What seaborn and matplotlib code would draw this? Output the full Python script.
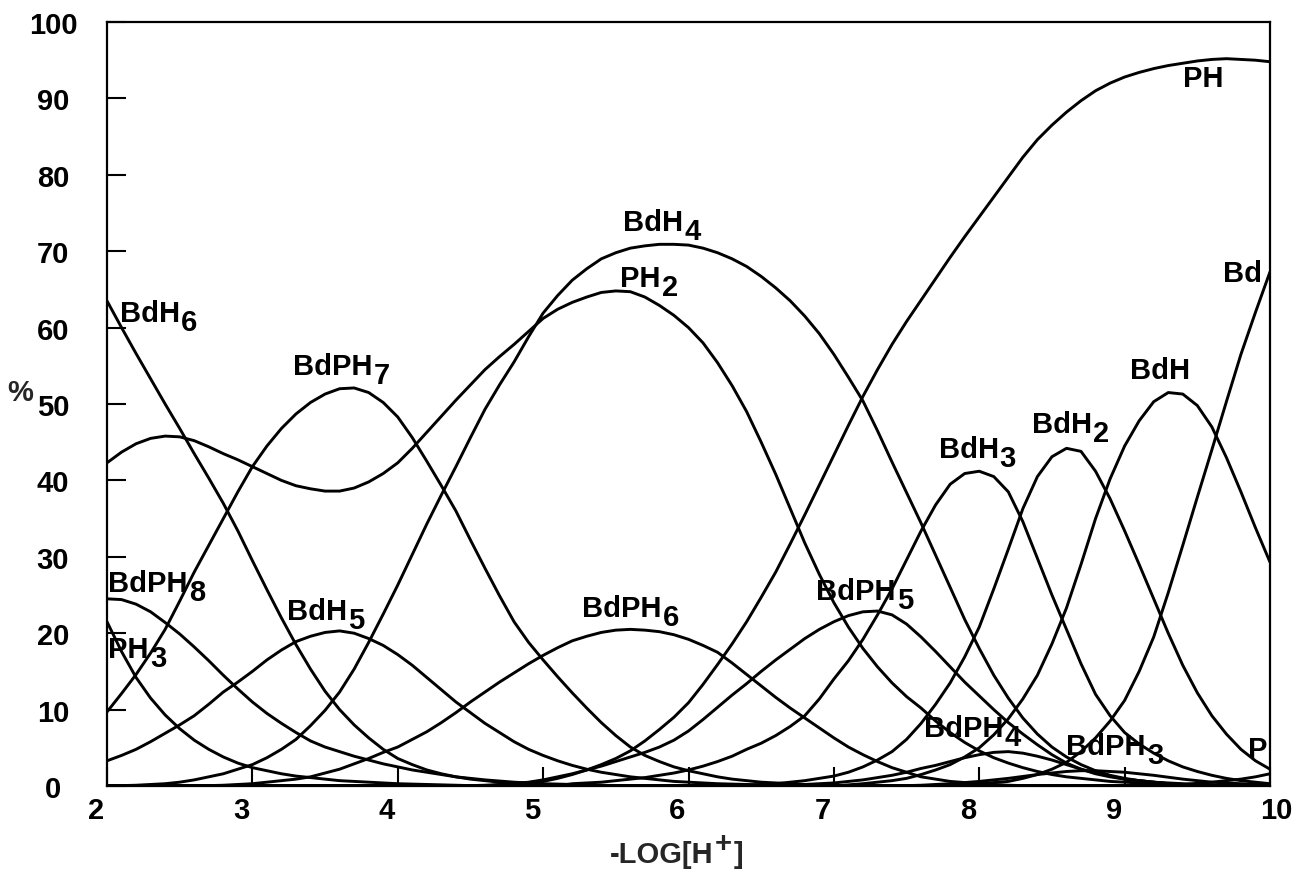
import matplotlib
matplotlib.use("Agg")
import matplotlib.pyplot as plt
import matplotlib.transforms as mtransforms
import numpy as np
import pandas as pd
import seaborn as sns

# -LOG[H+] grid (pH), step 0.1 from 2 to 10
ph = [round(v / 10, 1) for v in range(20, 101)]

# species distribution (%)
BdH6 = [63.5, 60.0, 56.6, 53.3, 50.0, 46.8, 43.5, 40.3, 37.0, 33.4,
        29.5, 25.7, 22.0, 18.5, 15.3, 12.4, 10.0, 8.0, 6.3, 4.8,
        3.6, 2.8, 2.1, 1.6, 1.2, 0.9, 0.7, 0.5, 0.4, 0.3,
        0.2, 0.15, 0.1] + [0.0] * 48
PH2 = [42.3, 43.7, 44.8, 45.5, 45.8, 45.7, 45.2, 44.4, 43.5, 42.7,
       41.8, 40.9, 40.0, 39.3, 38.9, 38.6, 38.6, 39.0, 39.8, 40.9,
       42.3, 44.2, 46.3, 48.4, 50.5, 52.5, 54.5, 56.2, 57.8, 59.5,
       61.2, 62.4, 63.3, 64.0, 64.6, 64.8, 64.7, 64.0, 62.9, 61.6,
       60.0, 58.0, 55.4, 52.4, 49.0, 45.0, 40.8, 36.3, 31.8, 27.7,
       24.0, 20.8, 18.0, 15.6, 13.5, 11.7, 10.2, 8.5, 7.0, 5.7,
       4.6, 3.7, 3.0, 2.4, 1.9, 1.5, 1.2, 1.0, 0.8, 0.6,
       0.5, 0.4, 0.3, 0.25, 0.2, 0.15, 0.1, 0.1, 0.1, 0.05, 0.0]
BdPH7 = [9.7, 12.1, 14.6, 17.4, 20.5, 24.2, 28.0, 31.5, 35.0, 38.5,
         41.8, 44.5, 46.8, 48.7, 50.2, 51.3, 52.0, 52.1, 51.5, 50.2,
         48.3, 45.6, 42.5, 39.3, 36.0, 32.2, 28.5, 24.9, 21.5, 18.8,
         16.5, 14.3, 12.2, 10.2, 8.3, 6.6, 5.1, 4.0, 3.2, 2.5,
         2.0, 1.6, 1.2, 0.9, 0.7, 0.5, 0.4, 0.3, 0.2, 0.15,
         0.1, 0.05] + [0.0] * 29
BdH4 = [0.0, 0.05, 0.1, 0.2, 0.3, 0.5, 0.8, 1.2, 1.6, 2.2,
        2.8, 3.7, 4.8, 6.1, 7.9, 9.9, 12.3, 15.3, 18.8, 22.5,
        26.3, 30.3, 34.3, 38.1, 41.8, 45.6, 49.3, 52.5, 55.5, 58.8,
        61.9, 64.2, 66.2, 67.7, 69.0, 69.8, 70.4, 70.7, 70.9, 70.9,
        70.8, 70.4, 69.8, 69.0, 68.0, 66.7, 65.2, 63.5, 61.5, 59.2,
        56.5, 53.5, 50.4, 46.5, 42.4, 38.4, 34.4, 30.2, 26.0, 21.8,
        18.0, 14.5, 11.5, 8.9, 6.8, 5.1, 3.8, 2.8, 2.0, 1.4,
        1.0, 0.7, 0.5, 0.3, 0.2, 0.15, 0.1, 0.07, 0.05, 0.02, 0.0]
PH = [0.0] * 25 + [0.05, 0.1, 0.2, 0.3, 0.45,
                   0.6, 1.0, 1.5, 2.1, 2.8, 3.6, 4.6, 5.9, 7.4, 9.0,
                   10.9, 13.3, 15.9, 18.6, 21.5, 24.7, 28.0, 31.7, 35.5, 39.4,
                   43.3, 47.2, 51.0, 54.5, 57.8, 60.8, 63.6, 66.4, 69.2, 71.9,
                   74.5, 77.1, 79.7, 82.3, 84.6, 86.5, 88.2, 89.7, 91.0, 92.0,
                   92.8, 93.4, 93.9, 94.3, 94.6, 94.9, 95.1, 95.2, 95.1, 95.0,
                   94.8]
Bd = [0.0] * 58 + [0.1, 0.2, 0.3, 0.45, 0.6, 1.0, 1.5, 2.2, 3.1, 4.5,
                   6.3, 8.5, 11.2, 15.0, 19.5, 25.3, 31.5, 37.8, 44.0, 50.3,
                   56.5, 62.0, 67.3]
BdH = [0.0] * 51 + [0.15, 0.3, 0.5, 0.7, 1.0, 1.5, 2.1, 2.8, 3.8,
                    5.0, 6.7, 8.8, 11.4, 14.5, 18.6, 23.3, 29.0, 35.0, 40.2,
                    44.5, 47.8, 50.3, 51.5, 51.3, 49.8, 47.0, 43.0, 38.5, 33.8,
                    29.3]
BdH2 = [0.0] * 44 + [0.1, 0.2, 0.3, 0.5, 0.7, 1.0,
                     1.3, 1.8, 2.5, 3.4, 4.5, 6.1, 8.2, 10.7, 13.5, 16.9,
                     20.8, 25.8, 31.0, 36.3, 40.5, 43.1, 44.2, 43.8, 41.2, 37.6,
                     33.4, 29.0, 24.5, 20.0, 15.8, 12.2, 9.2, 6.8, 4.8, 3.3,
                     2.2]
BdH3 = [0.0] * 32 + [0.3, 0.4, 0.5, 0.7, 0.9, 1.1, 1.4, 1.7,
                     2.1, 2.6, 3.2, 3.9, 4.8, 5.6, 6.6, 7.8, 9.2, 11.4,
                     14.0, 16.4, 19.2, 22.4, 25.8, 29.6, 33.4, 36.8, 39.5, 40.9,
                     41.2, 40.5, 38.5, 34.6, 29.8, 25.0, 20.5, 16.0, 12.0, 9.2,
                     7.0, 5.5, 4.3, 3.3, 2.5, 1.9, 1.4, 1.0, 0.7, 0.5,
                     0.3]
BdPH5 = [0.0] * 27 + [0.15, 0.3, 0.5,
                      0.8, 1.2, 1.6, 2.1, 2.6, 3.2, 3.8, 4.4, 5.1, 6.0,
                      7.2, 8.7, 10.3, 11.9, 13.4, 15.0, 16.5, 17.9, 19.3, 20.5,
                      21.5, 22.3, 22.8, 22.9, 22.4, 21.2, 19.5, 17.6, 15.6, 13.6,
                      11.8, 10.0, 8.3, 6.8, 5.4, 4.1, 3.0, 2.2, 1.6, 1.2,
                      0.9, 0.7, 0.5, 0.4, 0.3, 0.2, 0.1, 0.07, 0.05, 0.02,
                      0.0]
BdPH6 = [0.0] * 7 + [0.05, 0.1, 0.2,
                     0.3, 0.5, 0.7, 0.9, 1.2, 1.7, 2.2, 2.9, 3.6, 4.4,
                     5.1, 6.1, 7.1, 8.3, 9.6, 11.0, 12.3, 13.6, 14.8, 16.0,
                     17.1, 18.1, 19.0, 19.6, 20.1, 20.4, 20.5, 20.4, 20.2, 19.8,
                     19.2, 18.4, 17.5, 16.1, 14.6, 13.1, 11.6, 10.2, 8.9, 7.6,
                     6.3, 5.1, 4.1, 3.2, 2.4, 1.8, 1.2, 0.9, 0.6, 0.45,
                     0.3, 0.2, 0.1, 0.05] + [0.0] * 17
BdH5 = [3.3, 4.0, 4.8, 5.8, 6.9, 8.0, 9.2, 10.7, 12.3, 13.6,
        15.0, 16.5, 17.8, 18.9, 19.6, 20.1, 20.3, 20.0, 19.3, 18.4,
        17.2, 15.8, 14.2, 12.6, 11.0, 9.6, 8.2, 7.0, 5.8, 4.8,
        4.0, 3.3, 2.7, 2.2, 1.8, 1.5, 1.2, 1.0, 0.8, 0.6,
        0.5, 0.4, 0.3, 0.25, 0.2, 0.15, 0.1, 0.07, 0.05, 0.02] + [0.0] * 31
BdPH8 = [24.5, 24.4, 23.8, 22.8, 21.4, 19.9, 18.2, 16.4, 14.5, 12.7,
         11.0, 9.5, 8.2, 7.0, 5.9, 5.1, 4.5, 3.9, 3.4, 2.9,
         2.5, 2.1, 1.8, 1.5, 1.2, 1.0, 0.8, 0.65, 0.5, 0.4,
         0.3, 0.25, 0.2, 0.15, 0.1, 0.05] + [0.0] * 45
PH3 = [21.5, 17.6, 14.2, 11.5, 9.3, 7.5, 6.0, 4.8, 3.8, 3.0,
       2.4, 2.0, 1.6, 1.3, 1.1, 0.9, 0.7, 0.6, 0.5, 0.4,
       0.3, 0.25, 0.2, 0.15, 0.1, 0.05] + [0.0] * 55
BdPH4 = [0.0] * 48 + [0.2, 0.3,
                      0.4, 0.6, 0.8, 1.1, 1.4, 1.8, 2.3, 2.7, 3.2, 3.7,
                      4.1, 4.4, 4.5, 4.3, 3.9, 3.4, 2.8, 2.2, 1.7, 1.3,
                      0.9, 0.7, 0.5, 0.3, 0.2, 0.15, 0.1, 0.05, 0.0, 0.0,
                      0.0]
BdPH3 = [0.0] * 55 + [0.05, 0.1, 0.2, 0.3, 0.45,
                      0.6, 0.8, 1.0, 1.25, 1.5, 1.7, 1.9, 2.0, 2.0, 1.9,
                      1.8, 1.6, 1.4, 1.15, 0.9, 0.7, 0.5, 0.4, 0.3, 0.2,
                      0.1]
P = [0.0] * 71 + [0.05, 0.1, 0.15, 0.2, 0.35, 0.5, 0.7, 0.9, 1.2, 1.6]

series = {
    "BdH6": BdH6, "PH2": PH2, "BdPH7": BdPH7, "BdH4": BdH4, "PH": PH,
    "Bd": Bd, "BdH": BdH, "BdH2": BdH2, "BdH3": BdH3, "BdPH5": BdPH5,
    "BdPH6": BdPH6, "BdH5": BdH5, "BdPH8": BdPH8, "PH3": PH3,
    "BdPH4": BdPH4, "BdPH3": BdPH3, "P": P,
}
for name, vals in series.items():
    assert len(vals) == len(ph), (name, len(vals))

# curve labels: (main text, subscript, x, y)
curve_labels = [
    ("BdH", "6", 2.09, 60.9), ("BdPH", "7", 3.28, 53.9),
    ("BdH", "4", 5.55, 72.8), ("PH", "2", 5.53, 65.4),
    ("PH", "", 9.40, 91.6), ("Bd", "", 9.68, 66.1),
    ("BdH", "", 9.04, 53.4), ("BdH", "2", 8.36, 46.3),
    ("BdH", "3", 7.72, 43.1), ("BdPH", "5", 6.88, 24.5),
    ("BdPH", "6", 5.27, 22.3), ("BdH", "5", 3.24, 21.9),
    ("BdPH", "8", 2.01, 25.5), ("PH", "3", 2.01, 16.9),
    ("BdPH", "4", 7.62, 6.5), ("BdPH", "3", 8.60, 4.2),
    ("P", "", 9.85, 3.8),
]

x_ticks = [2, 3, 4, 5, 6, 7, 8, 9, 10]
y_ticks = [0, 10, 20, 30, 40, 50, 60, 70, 80, 90, 100]

sns.set_style("white")
plt.rcParams["font.family"] = ["Liberation Sans", "DejaVu Sans"]
plt.rcParams["font.weight"] = "bold"
plt.rcParams["font.size"] = 21

W, H = 1296, 878
fig = plt.figure(figsize=(W / 100, H / 100), dpi=100)
ax = fig.add_axes([107 / W, 1 - 787 / H, 1163 / W, 764 / H])

df = pd.DataFrame({"pH": ph, **series}).melt(id_vars="pH", var_name="species",
                                              value_name="pct")
sns.lineplot(data=df, x="pH", y="pct", hue="species",
             palette={k: "black" for k in series}, legend=False,
             linewidth=2.1, estimator=None, ax=ax)
for ln in ax.get_lines():
    ln.set_solid_joinstyle("round")
    ln.set_solid_capstyle("round")

ax.set_xlim(2, 10)
ax.set_ylim(0, 100)
for s in ax.spines.values():
    s.set_color("black")
    s.set_linewidth(1.6)

ax.set_xticks(x_ticks)
ax.set_xticklabels([str(t) for t in x_ticks])
ax.set_yticks(y_ticks)
ax.set_yticklabels([str(t) for t in y_ticks])
ax.tick_params(axis="both", direction="in", length=14, width=1.5,
               colors="black", labelsize=21)
ax.tick_params(axis="y", pad=38.9, left=True, right=False)
ax.tick_params(axis="x", pad=7, bottom=True, top=False)
for lbl in ax.get_yticklabels():
    lbl.set_horizontalalignment("center")
    lbl.set_fontweight("bold")
x_offsets = [-11, -11, -11, -11, -11, -11, -11, -11, 6]
for lbl, dx in zip(ax.get_xticklabels(), x_offsets):
    lbl.set_fontweight("bold")
    lbl.set_transform(lbl.get_transform() +
                      mtransforms.ScaledTranslation(dx / 100, 0, fig.dpi_scale_trans))

ax.set_xlabel("")
ax.set_ylabel("%", rotation=0, ha="center", va="center", fontsize=21,
              fontweight="bold")
ax.yaxis.set_label_coords(-0.0748, 0.516)

# x label with superscript +
t1 = fig.text(610 / W, 1 - 863 / H, "-LOG[H", ha="left", va="baseline",
              fontsize=21, fontweight="bold")
t2 = ax.annotate("+", xy=(1, 0), xycoords=t1, xytext=(1, 11),
                 textcoords="offset pixels", ha="left", va="bottom",
                 fontsize=21, fontweight="bold", annotation_clip=False)
ax.annotate("]", xy=(1, 0), xycoords=t2, xytext=(2, -11),
            textcoords="offset pixels", ha="left", va="bottom",
            fontsize=21, fontweight="bold", annotation_clip=False)

for base, sub, x, y in curve_labels:
    t = ax.text(x, y, base, ha="left", va="baseline", fontsize=21,
                fontweight="bold", color="black")
    if sub:
        ax.annotate(sub, xy=(1, 0), xycoords=t, xytext=(1, -9),
                    textcoords="offset pixels", ha="left", va="bottom",
                    fontsize=21, fontweight="bold", color="black",
                    annotation_clip=False)

fig.savefig("out.png", dpi=100)
